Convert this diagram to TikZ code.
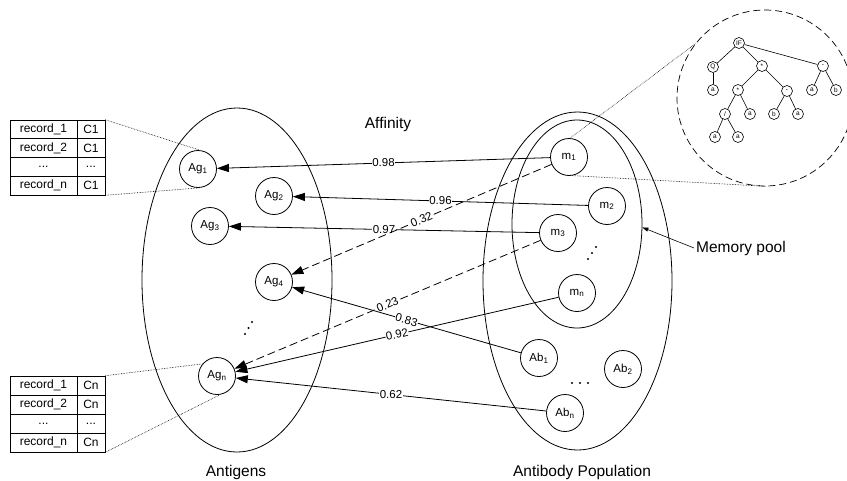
\documentclass[tikz,border=0pt]{standalone}
\usepackage{fontspec}
\setmainfont{Liberation Sans}
\usetikzlibrary{arrows.meta,shapes.geometric}
\begin{document}
\begin{tikzpicture}[x=1pt,y=-1pt,
  ag/.style={draw, circle, line width=0.8pt, minimum size=37pt, inner sep=0pt, font=\fontsize{11.5}{12}\selectfont},
  tn/.style={draw, circle, line width=0.6pt, minimum size=11pt, inner sep=0pt, font=\fontsize{6.5}{7}\selectfont},
  tedge/.style={line width=0.6pt},
  group/.style={draw, ellipse, line width=0.8pt, inner sep=0pt},
  link/.style={-{Triangle[length=12pt,width=8pt]}, line width=0.8pt},
  dlink/.style={link, dash pattern=on 8pt off 4pt},
  wlab/.style={fill=white, inner sep=0.5pt, font=\fontsize{11.5}{12}\selectfont},
  biglab/.style={font=\fontsize{15.5}{16}\selectfont, inner sep=0pt},
  cell/.style={draw, line width=0.6pt, inner sep=0pt, font=\fontsize{12}{12}\selectfont},
  dotl/.style={densely dotted, line width=0.6pt},
  tdot/.style={fill, circle, inner sep=0pt, minimum size=2.4pt}
]
\useasboundingbox (0,0) rectangle (847,480);

% groups
\node[group, minimum width=190pt, minimum height=344pt] (antigens) at (237,280) {};
\node[group, minimum width=189pt, minimum height=338pt] (abpop) at (577.5,281) {};
\node[group, minimum width=130pt, minimum height=208pt] (mp) at (577,224) {};

% labels
\node[biglab, anchor=base] (aff) at (388,128) {Affinity};
\node[biglab, anchor=base] (antlab) at (236,476) {Antigens};
\node[biglab, anchor=base] (ablab) at (582,476) {Antibody Population};
\node[biglab, anchor=west, inner sep=2pt] (mplab) at (694,248) {Memory pool};
\draw[-{Triangle[length=6pt,width=4pt]}, line width=0.6pt] (mplab.west) -- (mp.-3);

% antigens
\node[ag] (Ag1) at (198,169) {Ag\textsubscript{1}};
\node[ag] (Ag2) at (274,196) {Ag\textsubscript{2}};
\node[ag] (Ag3) at (210,226) {Ag\textsubscript{3}};
\node[ag] (Ag4) at (274,282) {Ag\textsubscript{4}};
\node[ag] (Agn) at (217,376) {Ag\textsubscript{n}};

% antibodies
\node[ag] (m1) at (569,157) {m\textsubscript{1}};
\node[ag] (m2) at (607,206) {m\textsubscript{2}};
\node[ag] (m3) at (558,233) {m\textsubscript{3}};
\node[ag] (mn) at (577,293) {m\textsubscript{n}};
\node[ag] (Ab1) at (539,358) {Ab\textsubscript{1}};
\node[ag] (Ab2) at (623,369) {Ab\textsubscript{2}};
\node[ag] (Abn) at (565,413) {Ab\textsubscript{n}};

% dots
\node[tdot] (d1) at (245,334) {};
\node[tdot] (d2) at (248.5,328) {};
\node[tdot] (d3) at (252,322) {};
\node[tdot] (d4) at (588,259) {};
\node[tdot] (d5) at (592,253) {};
\node[tdot] (d6) at (596,247) {};
\node[tdot] (d7) at (572,383) {};
\node[tdot] (d8) at (580,383) {};
\node[tdot] (d9) at (588,383) {};

% affinity links
\draw[link] (m1) -- node[wlab] {0.98} (Ag1);
\draw[link] (m2) -- node[wlab] {0.96} (Ag2);
\draw[link] (m3) -- node[wlab] {0.97} (Ag3);
\draw[dlink] (m1) -- node[wlab, sloped] {0.32} (Ag4);
\draw[dlink] (m3) -- node[wlab, sloped] {0.23} (Agn);
\draw[link] (Ab1) -- node[wlab, sloped] {0.83} (Ag4);
\draw[link] (mn) -- node[wlab, sloped] {0.92} (Agn);
\draw[link] (Abn) -- node[wlab] {0.62} (Agn);

% top table
\node[cell, minimum width=67pt, minimum height=18.75pt] (t11) at (43.5,129.4) {record\_1};
\node[cell, minimum width=28pt, minimum height=18.75pt] (t12) at (91,129.4) {C1};
\node[cell, minimum width=67pt, minimum height=18.75pt] (t21) at (43.5,148.1) {record\_2};
\node[cell, minimum width=28pt, minimum height=18.75pt] (t22) at (91,148.1) {C1};
\node[cell, minimum width=67pt, minimum height=18.75pt] (t31) at (43.5,166.9) {...};
\node[cell, minimum width=28pt, minimum height=18.75pt] (t32) at (91,166.9) {...};
\node[cell, minimum width=67pt, minimum height=18.75pt] (t41) at (43.5,185.6) {record\_n};
\node[cell, minimum width=28pt, minimum height=18.75pt] (t42) at (91,185.6) {C1};

% bottom table
\node[cell, minimum width=67pt, minimum height=19pt] (b11) at (43.5,385.5) {record\_1};
\node[cell, minimum width=28pt, minimum height=19pt] (b12) at (91,385.5) {Cn};
\node[cell, minimum width=67pt, minimum height=19pt] (b21) at (43.5,404.5) {record\_2};
\node[cell, minimum width=28pt, minimum height=19pt] (b22) at (91,404.5) {Cn};
\node[cell, minimum width=67pt, minimum height=19pt] (b31) at (43.5,423.5) {...};
\node[cell, minimum width=28pt, minimum height=19pt] (b32) at (91,423.5) {...};
\node[cell, minimum width=67pt, minimum height=19pt] (b41) at (43.5,442.5) {record\_n};
\node[cell, minimum width=28pt, minimum height=19pt] (b42) at (91,442.5) {Cn};

\draw[dotl] (t12.north east) -- (Ag1.85);
\draw[dotl] (t42.south east) -- (Ag1.-85);
\draw[dotl] (b12.north east) -- (Agn.140);
\draw[dotl] (b42.south east) -- (Agn.-80);

% zoom circle with tree
\node[draw, circle, minimum size=176pt, inner sep=0pt, line width=0.7pt, dash pattern=on 7pt off 4pt] (zc) at (765,98) {};
\draw[dotl] (m1.87) -- (zc.142);
\draw[dotl] (m1.-80) -- (zc.271);

\node[tn] (IF) at (739,43) {IF};
\node[tn] (Q) at (713,67) {Q};
\node[tn] (s1) at (762,66) {*};
\node[tn] (mr) at (823,66) {-};
\node[tn] (a1) at (713,90) {a};
\node[tn] (s2) at (738,90) {*};
\node[tn] (mm) at (787,91) {-};
\node[tn] (a2) at (812,90) {a};
\node[tn] (b1) at (836,90) {b};
\node[tn] (sl) at (725,114) {/};
\node[tn] (a3) at (750,114) {a};
\node[tn] (b2) at (774,114) {b};
\node[tn] (a4) at (798,114) {a};
\node[tn] (a5) at (715,137) {a};
\node[tn] (a6) at (738,137) {a};
\draw[tedge] (IF) -- (Q);
\draw[tedge] (IF) -- (s1);
\draw[tedge] (IF) -- (mr);
\draw[tedge] (Q) -- (a1);
\draw[tedge] (s1) -- (s2);
\draw[tedge] (s1) -- (mm);
\draw[tedge] (mr) -- (a2);
\draw[tedge] (mr) -- (b1);
\draw[tedge] (s2) -- (sl);
\draw[tedge] (s2) -- (a3);
\draw[tedge] (mm) -- (b2);
\draw[tedge] (mm) -- (a4);
\draw[tedge] (sl) -- (a5);
\draw[tedge] (sl) -- (a6);
\end{tikzpicture}
\end{document}
